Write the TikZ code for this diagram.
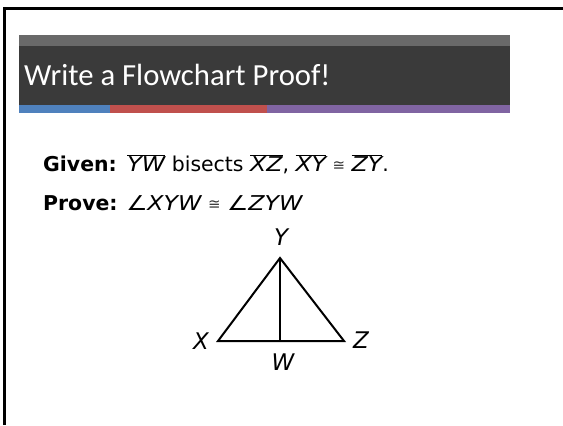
\documentclass[tikz,border=0pt]{standalone}
\usepackage{fontspec}
\setmainfont{DejaVu Sans}[ItalicFeatures={FakeStretch=1.16}]
\newfontfamily\titlefont{Carlito}
\newfontfamily\labelfont{DejaVu Sans Oblique}
\definecolor{bandgrey}{HTML}{696969}
\definecolor{darkgrey}{HTML}{3A3A3A}
\definecolor{barblue}{HTML}{4F81BD}
\definecolor{barred}{HTML}{C0504D}
\definecolor{barpurple}{HTML}{8064A2}
\newcommand{\ovl}[1]{$\overline{\hbox{\itshape #1}}$}
\newcommand{\congsym}{{\color{black!80}\fontsize{15}{15}\selectfont\raisebox{0.5bp}{≅}}}
\tikzset{
  bodytext/.style={anchor=base west, inner sep=0pt, font=\fontsize{20.5}{22}\selectfont},
  vlabel/.style={inner sep=0pt, font=\labelfont\fontsize{23}{23}\selectfont},
  seg/.style={line width=2bp, line join=miter}
}
\begin{document}
\begin{tikzpicture}[x=1bp,y=-1bp]
\useasboundingbox (0,0) rectangle (563,425);
\fill[white] (0,0) rectangle (563,425);
\draw[line width=3bp] (4.5,425) -- (4.5,8.5) -- (563,8.5);
\fill[bandgrey] (19,35) rectangle (510,46);
\fill[darkgrey] (19,46) rectangle (510,105);
\fill[barblue] (19,105) rectangle (110,113);
\fill[barred] (110,105) rectangle (267,113);
\fill[barpurple] (267,105) rectangle (510,113);
\node[anchor=base west, inner sep=0pt, text=white, font=\titlefont\fontsize{30.8}{32}\selectfont] (title) at (24,85) {Write a Flowchart Proof!};
\node[bodytext] (given) at (43,171) {\textbf{Given:}\hspace{2bp} \ovl{YW} bisects \ovl{XZ}, \ovl{XY} \congsym{} \ovl{ZY}.};
\node[bodytext] (prove) at (43,210) {\textbf{Prove:} {\itshape ∠XYW} \congsym{} {\itshape ∠ZYW}};
\coordinate (Y) at (280,258);
\coordinate (X) at (218,341);
\coordinate (Z) at (344,341);
\coordinate (W) at (280,341);
\draw[seg] (X) -- (Y) -- (Z) -- cycle;
\draw[seg] (Y) -- (W);
\node[vlabel] (ly) at (281,237) {Y};
\node[vlabel] (lx) at (201,341) {X};
\node[vlabel] (lz) at (361,340) {Z};
\node[vlabel] (lw) at (283,362) {W};
\end{tikzpicture}
\end{document}
